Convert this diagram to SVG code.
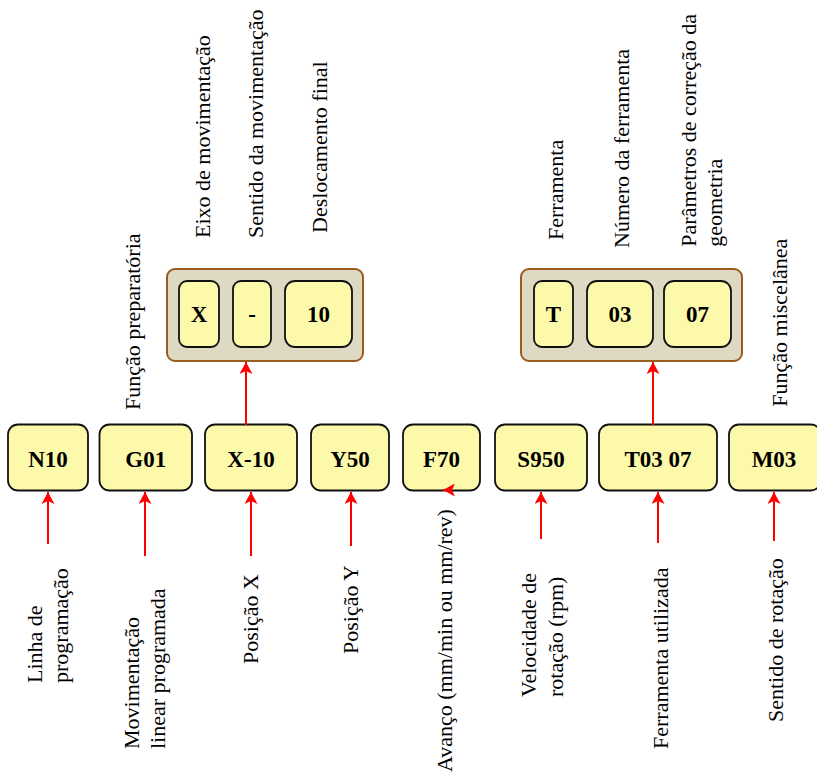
<svg xmlns="http://www.w3.org/2000/svg" width="817" height="776" viewBox="0 0 817 776">
<style>
.box{fill:#FDF9AA;stroke:#111;stroke-width:1.8}
.grp{fill:#DDD9C3;stroke:#9A5B1F;stroke-width:2}
.bt{font-family:"Liberation Serif","Times New Roman",serif;font-weight:bold;font-size:23px;text-anchor:middle;fill:#000}
.lb{font-family:"Liberation Serif","Times New Roman",serif;font-size:22px;fill:#000}
.con{stroke:#FF0000;stroke-width:2;fill:none;marker-end:url(#ah)}
</style>
<defs>
<marker id="ah" viewBox="0 0 12 13" refX="12" refY="6.5" markerWidth="12" markerHeight="13" markerUnits="userSpaceOnUse" orient="auto">
<path d="M0,0 L12,6.5 L0,13 L3,6.5 z" fill="#FF0000"/>
</marker>
</defs>
<rect width="817" height="776" fill="#fff"/>

<g id="group-x">
<rect class="grp" x="167" y="269" width="196" height="92" rx="8"/>
<g id="gx-x"><rect class="box" x="179" y="281" width="40" height="66" rx="8"/><text class="bt" x="199" y="322">X</text></g>
<g id="gx-sign"><rect class="box" x="233" y="281" width="38" height="66" rx="8"/><text class="bt" x="252" y="322">-</text></g>
<g id="gx-10"><rect class="box" x="285" y="281" width="67" height="66" rx="10"/><text class="bt" x="318.5" y="322">10</text></g>
</g>

<g id="group-t">
<rect class="grp" x="521" y="269" width="221" height="92" rx="8"/>
<g id="gt-t"><rect class="box" x="534" y="281" width="39" height="66" rx="8"/><text class="bt" x="553.5" y="322">T</text></g>
<g id="gt-03"><rect class="box" x="587" y="281" width="66" height="66" rx="10"/><text class="bt" x="620" y="322">03</text></g>
<g id="gt-07"><rect class="box" x="664" y="281" width="67" height="66" rx="10"/><text class="bt" x="697.5" y="322">07</text></g>
</g>

<g id="n10"><rect class="box" x="8" y="424.5" width="80" height="66" rx="10"/><text class="bt" x="48" y="467">N10</text></g>
<g id="g01"><rect class="box" x="99.5" y="424.5" width="92.5" height="66" rx="10"/><text class="bt" x="145.7" y="467">G01</text></g>
<g id="x-10"><rect class="box" x="205" y="424.5" width="92" height="66" rx="10"/><text class="bt" x="251" y="467">X-10</text></g>
<g id="y50"><rect class="box" x="311" y="424.5" width="78" height="66" rx="10"/><text class="bt" x="350" y="467">Y50</text></g>
<g id="f70"><rect class="box" x="403" y="424.5" width="77" height="66" rx="10"/><text class="bt" x="441.5" y="467">F70</text></g>
<g id="s950"><rect class="box" x="495" y="424.5" width="92" height="66" rx="10"/><text class="bt" x="541" y="467">S950</text></g>
<g id="t0307"><rect class="box" x="599" y="424.5" width="118" height="66" rx="10"/><text class="bt" x="658" y="467">T03 07</text></g>
<g id="m03"><rect class="box" x="729" y="424.5" width="92" height="66" rx="10"/><text class="bt" x="774" y="467">M03</text></g>

<g id="connectors">
<line class="con" x1="48" y1="544" x2="48" y2="492"/>
<line class="con" x1="145" y1="556" x2="145" y2="492"/>
<line class="con" x1="251" y1="556" x2="251" y2="492"/>
<line class="con" x1="351" y1="546" x2="351" y2="492"/>
<line class="con" x1="541" y1="539" x2="541" y2="492"/>
<line class="con" x1="658" y1="543" x2="658" y2="492"/>
<line class="con" x1="774" y1="541" x2="774" y2="492"/>
<line class="con" x1="246" y1="425" x2="246" y2="362"/>
<line class="con" x1="653" y1="425" x2="653" y2="362"/>
<line class="con" x1="452" y1="490" x2="443" y2="490"/>
</g>

<g id="labels">
<text class="lb" transform="translate(139.5,410) rotate(-90)">Função preparatória</text>
<text class="lb" transform="translate(210,238) rotate(-90)">Eixo de movimentação</text>
<text class="lb" transform="translate(262.7,238) rotate(-90)">Sentido da movimentação</text>
<text class="lb" transform="translate(326.7,233) rotate(-90)">Deslocamento final</text>
<text class="lb" transform="translate(563.3,240) rotate(-90)">Ferramenta</text>
<text class="lb" transform="translate(629,248) rotate(-90)">Número da ferramenta</text>
<text class="lb" transform="translate(695.7,246.7) rotate(-90)">Parâmetros de correção da</text>
<text class="lb" transform="translate(721.7,246.7) rotate(-90)">geometria</text>
<text class="lb" transform="translate(786.7,406.7) rotate(-90)">Função miscelânea</text>

<text class="lb" transform="translate(41.7,683) rotate(-90)">Linha de</text>
<text class="lb" transform="translate(67.5,683) rotate(-90)">programação</text>
<text class="lb" transform="translate(139.3,749) rotate(-90)">Movimentação</text>
<text class="lb" transform="translate(165,749) rotate(-90)">linear programada</text>
<text class="lb" transform="translate(258.3,664) rotate(-90)">Posição X</text>
<text class="lb" transform="translate(358.3,654) rotate(-90)">Posição Y</text>
<text class="lb" transform="translate(451.7,772) rotate(-90)">Avanço (mm/min ou mm/rev)</text>
<text class="lb" transform="translate(536,697) rotate(-90)">Velocidade de</text>
<text class="lb" transform="translate(563,697) rotate(-90)">rotação (rpm)</text>
<text class="lb" transform="translate(668.3,749) rotate(-90)">Ferramenta utilizada</text>
<text class="lb" transform="translate(783,722) rotate(-90)">Sentido de rotação</text>
</g>
</svg>
